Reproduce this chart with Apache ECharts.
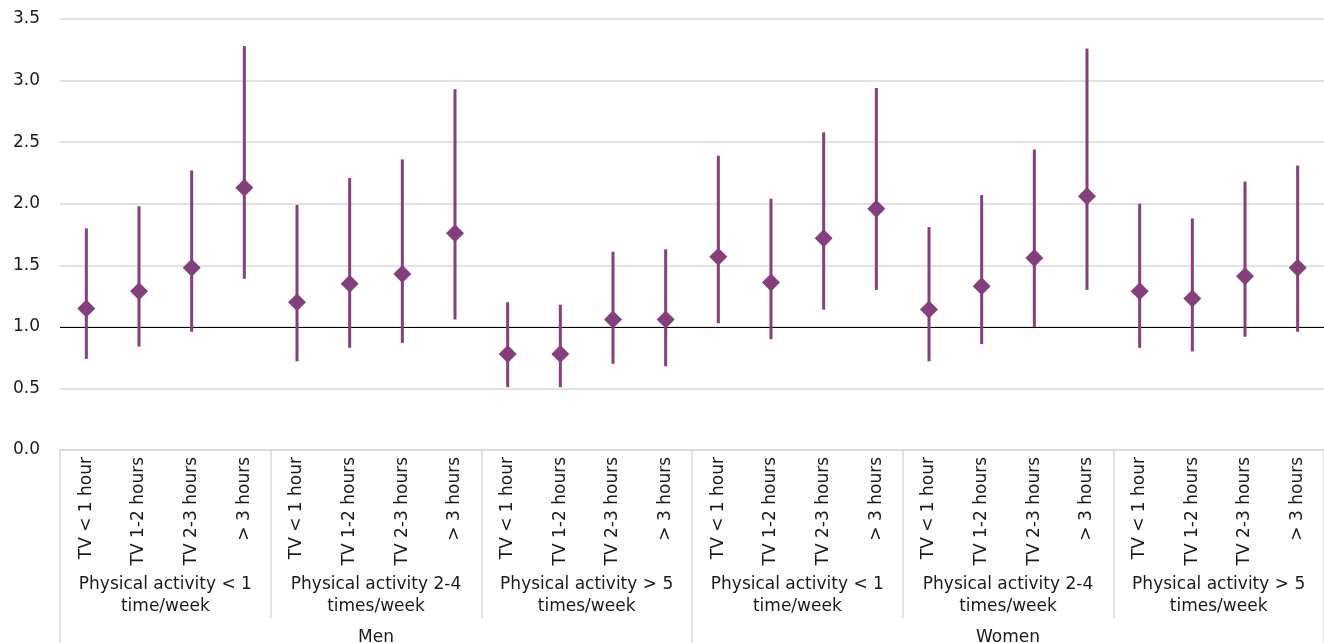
<!DOCTYPE html>
<html>
<head>
<meta charset="utf-8">
<script src="https://cdn.jsdelivr.net/npm/echarts@6/dist/echarts.min.js"></script>
<style>
  html, body { margin: 0; padding: 0; background: #fff; }
  #chart { width: 1324px; height: 643px; }
</style>
</head>
<body>
<div id="chart"></div>
<script>
// TV viewing categories, repeated inside every activity group
const tvLabels = ['TV < 1 hour', 'TV 1-2 hours', 'TV 2-3 hours', '> 3 hours'];
// Physical activity groups (three per sex)
const activityLabels = [
  'Physical activity < 1\ntime/week',
  'Physical activity 2-4\ntimes/week',
  'Physical activity > 5\ntimes/week',
  'Physical activity < 1\ntime/week',
  'Physical activity 2-4\ntimes/week',
  'Physical activity > 5\ntimes/week'
];
const sexLabels = ['Men', 'Women'];

// Point estimates with lower / upper confidence limits
const estimate = [1.15, 1.29, 1.48, 2.13, 1.20, 1.35, 1.43, 1.76, 0.78, 0.78, 1.06, 1.06,
                  1.57, 1.36, 1.72, 1.96, 1.14, 1.33, 1.56, 2.06, 1.29, 1.23, 1.41, 1.48];
const lower    = [0.74, 0.84, 0.96, 1.39, 0.72, 0.83, 0.87, 1.06, 0.51, 0.51, 0.70, 0.68,
                  1.03, 0.90, 1.14, 1.30, 0.72, 0.86, 1.00, 1.30, 0.83, 0.80, 0.92, 0.96];
const upper    = [1.80, 1.98, 2.27, 3.28, 1.99, 2.21, 2.36, 2.93, 1.20, 1.18, 1.61, 1.63,
                  2.39, 2.04, 2.58, 2.94, 1.81, 2.07, 2.44, 3.26, 2.00, 1.88, 2.18, 2.31];
const yTicks = [0, 0.5, 1.0, 1.5, 2.0, 2.5, 3.0, 3.5];

const categories = [];
activityLabels.forEach(() => tvLabels.forEach(t => categories.push(t)));

const purple = '#843f7c';
const gridGrey = '#d9d9d9';
const font = 'DejaVu Sans';
const textColor = '#1a1a1a';

const pointData = estimate.map((v, i) => [i, v]);
const rangeData = lower.map((lo, i) => [i, lo, upper[i]]);

const chart = echarts.init(document.getElementById('chart'), null, { renderer: 'canvas' });

chart.setOption({
  animation: false,
  backgroundColor: '#fff',
  grid: { left: 60, right: 0, top: 19, bottom: 193, containLabel: false, outerBoundsMode: 'none' },
  xAxis: [
    {
      type: 'category',
      data: categories,
      position: 'bottom',
      axisLine: { show: true, lineStyle: { color: gridGrey, width: 1.5 } },
      axisTick: { show: false },
      axisLabel: {
        interval: 0, rotate: 90, margin: 7,
        fontFamily: font, fontSize: 17, color: textColor
      },
      splitLine: { show: false }
    },
    {
      type: 'category',
      data: activityLabels,
      position: 'bottom',
      axisLine: { show: false },
      axisTick: { show: true, length: 168, interval: 0, lineStyle: { color: gridGrey, width: 1.5 } },
      axisLabel: {
        interval: 0, margin: 124, lineHeight: 22, align: 'center',
        fontFamily: font, fontSize: 17, color: textColor
      },
      splitLine: { show: false }
    },
    {
      type: 'category',
      data: sexLabels,
      position: 'bottom',
      axisLine: { show: false },
      axisTick: { show: true, length: 200, interval: 0, lineStyle: { color: gridGrey, width: 1.5 } },
      axisLabel: {
        interval: 0, margin: 177, lineHeight: 22,
        fontFamily: font, fontSize: 17, color: textColor
      },
      splitLine: { show: false }
    }
  ],
  yAxis: {
    type: 'value',
    min: yTicks[0],
    max: yTicks[yTicks.length - 1],
    interval: 0.5,
    axisLine: { show: false },
    axisTick: { show: false },
    axisLabel: {
      margin: 20, fontFamily: font, fontSize: 17, color: textColor,
      formatter: v => v.toFixed(1)
    },
    splitLine: { show: true, lineStyle: { color: gridGrey, width: 1.5 } }
  },
  series: [
    {
      // confidence interval bars
      type: 'custom',
      xAxisIndex: 0,
      data: rangeData,
      encode: { x: 0, y: [1, 2] },
      renderItem: (params, api) => {
        const i = api.value(0);
        const p0 = api.coord([i, api.value(1)]);
        const p1 = api.coord([i, api.value(2)]);
        return {
          type: 'line',
          shape: { x1: p0[0], y1: p0[1], x2: p1[0], y2: p1[1] },
          style: { stroke: purple, lineWidth: 3 }
        };
      },
      silent: true,
      z: 2
    },
    {
      // point estimates
      type: 'scatter',
      xAxisIndex: 0,
      data: pointData,
      symbol: 'diamond',
      symbolSize: 18,
      itemStyle: { color: purple, opacity: 1 },
      silent: true,
      z: 3,
      markLine: {
        silent: true,
        symbol: 'none',
        label: { show: false },
        lineStyle: { color: '#000', width: 1, type: 'solid' },
        data: [{ yAxis: 1 }],
        z: 1
      }
    }
  ]
});
</script>
</body>
</html>
